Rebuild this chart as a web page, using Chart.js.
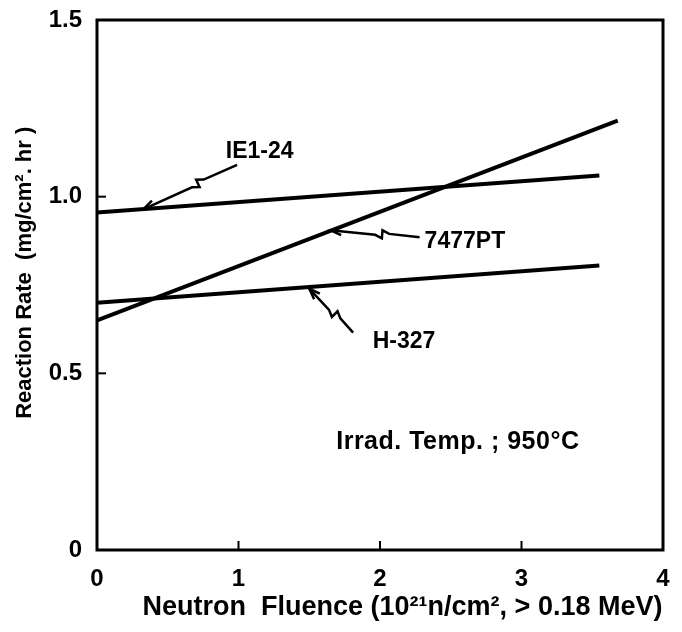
<!DOCTYPE html>
<html><head><meta charset="utf-8">
<script src="https://cdn.jsdelivr.net/npm/chart.js@4"></script>
<style>html,body{margin:0;padding:0;background:#fff}#wrap{width:682px;height:632px}</style>
</head><body><div id="wrap"><canvas id="c" width="682" height="632"></canvas></div>
<script>
// ---- data ----
const xTicks = [0, 1, 2, 3, 4];
const yTicks = [0, 0.5, 1.0, 1.5];
const ie124Fluence = [0, 3.55];
const ie124Rate = [0.955, 1.06];
const pt7477Fluence = [0, 3.68];
const pt7477Rate = [0.65, 1.215];
const h327Fluence = [0, 3.55];
const h327Rate = [0.70, 0.805];
const seriesNames = ['IE1-24', '7477PT', 'H-327'];

function pts(xs, ys){ return xs.map((x,i)=>({x:x, y:ys[i]})); }

const FONT = '"Liberation Sans", Arial, sans-serif';
const NB = '\u00A0';

// annotation labels with arrows (data coords)
const notes = [
  {text:'IE1-24', x:1.15, y:1.127, tail:[0.99,1.09], tip:[0.33,0.965]},
  {text:'7477PT', x:2.6, y:0.872, tail:[2.28,0.885], tip:[1.65,0.905]},
  {text:'H-327', x:2.17, y:0.59, tail:[1.81,0.615], tip:[1.5,0.74]}
];

function brokenArrow(ctx, a, b){
  const dx=b[0]-a[0], dy=b[1]-a[1]; const L=Math.hypot(dx,dy);
  const ux=dx/L, uy=dy/L, nx=-uy, ny=ux;
  const mx=a[0]+dx*0.42, my=a[1]+dy*0.42;
  ctx.beginPath();
  ctx.moveTo(a[0],a[1]);
  ctx.lineTo(mx-ux*7+nx*1, my-uy*7+ny*1);
  ctx.lineTo(mx+nx*4, my+ny*4);
  ctx.lineTo(mx-nx*4, my-ny*4);
  ctx.lineTo(mx+ux*7-nx*1, my+uy*7-ny*1);
  ctx.lineTo(b[0],b[1]);
  ctx.stroke();
  ctx.beginPath();
  ctx.moveTo(b[0]-ux*11+nx*4, b[1]-uy*11+ny*4);
  ctx.lineTo(b[0],b[1]);
  ctx.lineTo(b[0]-ux*11-nx*4, b[1]-uy*11-ny*4);
  ctx.stroke();
}

const framePlugin = {
  id:'frame',
  afterDatasetsDraw(chart){
    const {ctx, chartArea:a, scales:{x,y}} = chart;
    ctx.save();
    ctx.strokeStyle='#000'; ctx.lineWidth=3;
    ctx.strokeRect(a.left, a.top, a.right-a.left, a.bottom-a.top);
    ctx.lineWidth=2;
    xTicks.slice(1,-1).forEach(v=>{const p=x.getPixelForValue(v);ctx.beginPath();ctx.moveTo(p,a.bottom);ctx.lineTo(p,a.bottom-9);ctx.stroke();});
    yTicks.slice(1,-1).forEach(v=>{const p=y.getPixelForValue(v);ctx.beginPath();ctx.moveTo(a.left,p);ctx.lineTo(a.left+9,p);ctx.stroke();});
    ctx.fillStyle='#000';
    ctx.font='bold 23px '+FONT;
    ctx.textAlign='center'; ctx.textBaseline='middle';
    ctx.lineWidth=2.5; ctx.lineJoin='miter';
    notes.forEach(n=>{
      ctx.fillText(n.text, x.getPixelForValue(n.x), y.getPixelForValue(n.y));
      brokenArrow(ctx,[x.getPixelForValue(n.tail[0]),y.getPixelForValue(n.tail[1])],[x.getPixelForValue(n.tip[0]),y.getPixelForValue(n.tip[1])]);
    });
    ctx.font='bold 25px '+FONT;
    try{ ctx.letterSpacing='0.5px'; }catch(e){}
    ctx.fillText('Irrad. Temp. ; 950°C', x.getPixelForValue(2.55), y.getPixelForValue(0.305));
    ctx.restore();
  }
};

const ds = (label, xs, ys) => ({label, data:pts(xs,ys), showLine:true, borderColor:'#000', borderWidth:4, pointRadius:0, fill:false, tension:0});

new Chart(document.getElementById('c'), {
  type:'scatter',
  data:{datasets:[ds(seriesNames[0],ie124Fluence,ie124Rate), ds(seriesNames[1],pt7477Fluence,pt7477Rate), ds(seriesNames[2],h327Fluence,h327Rate)]},
  options:{
    responsive:false, animation:false,
    layout:{padding:{top:20,right:19,left:0,bottom:0}},
    plugins:{legend:{display:false}, tooltip:{enabled:false}},
    scales:{
      x:{type:'linear', min:0, max:4, grid:{display:false, drawTicks:false}, border:{display:false},
        afterBuildTicks(s){s.ticks=xTicks.map(v=>({value:v}));},
        afterFit(s){s.height=82; s.paddingLeft=0; s.paddingRight=0;},
        ticks:{color:'#000', padding:15, maxRotation:0, font:{family:FONT,size:24,weight:'bold'}, callback:v=>String(v)},
        title:{display:true, text:NB.repeat(6)+'Neutron  Fluence (10²¹n/cm², > 0.18 MeV)', color:'#000', padding:{top:0,bottom:8}, font:{family:FONT,size:27,weight:'bold'}}},
      y:{type:'linear', min:0, max:1.5, grid:{display:false, drawTicks:false}, border:{display:false},
        afterBuildTicks(s){s.ticks=yTicks.map(v=>({value:v}));},
        afterFit(s){s.width=97; s.paddingTop=0; s.paddingBottom=0;},
        ticks:{color:'#000', padding:15, font:{family:FONT,size:24,weight:'bold'}, callback:v=>v===0?'0':v.toFixed(1)},
        title:{display:true, text:NB.repeat(4)+'Reaction Rate  (mg/cm². hr )', color:'#000', padding:{top:12,bottom:0}, font:{family:FONT,size:22,weight:'bold'}}}
    }
  },
  plugins:[framePlugin]
});
</script></body></html>
